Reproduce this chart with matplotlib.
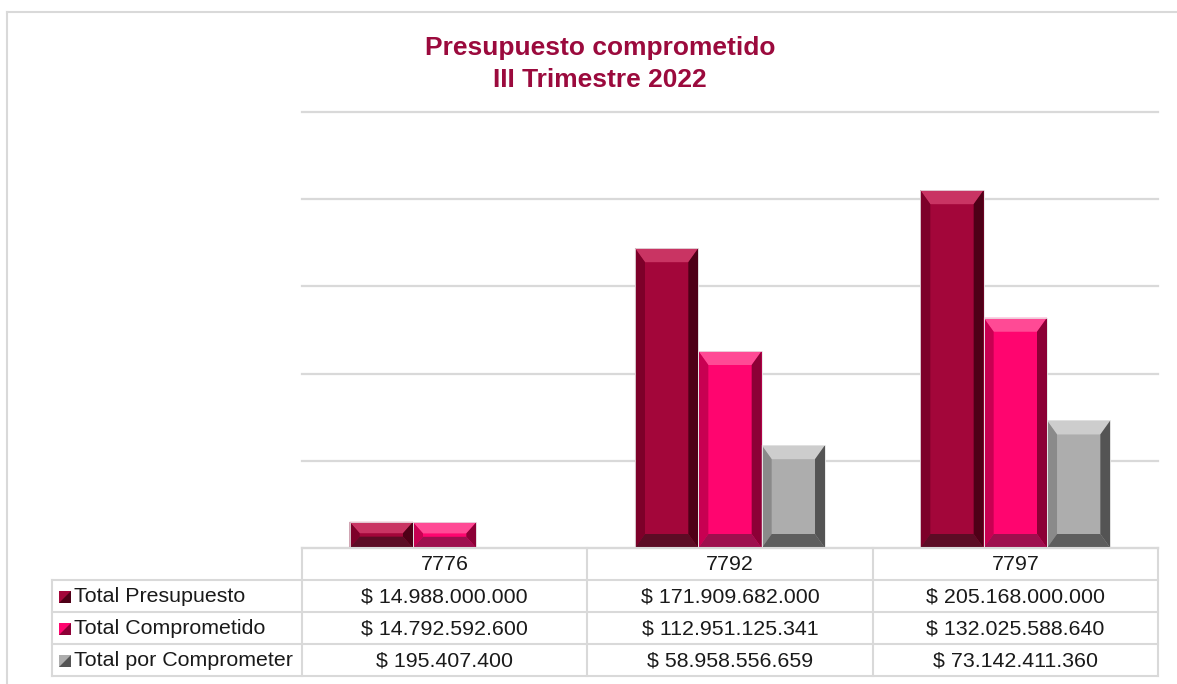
import numpy as np
import matplotlib
matplotlib.use("Agg")
import matplotlib.pyplot as plt
from matplotlib.patches import Polygon

plt.rcParams['font.family'] = ['Liberation Sans', 'DejaVu Sans']

# Datos del gráfico
categorias = ['7776', '7792', '7797']
series = ['Total Presupuesto', 'Total Comprometido', 'Total por Comprometer']
total_presupuesto = [14988000000, 171909682000, 205168000000]
total_comprometido = [14792592600, 112951125341, 132025588640]
total_por_comprometer = [195407400, 58958556659, 73142411360]
etiquetas_presupuesto = ['$ 14.988.000.000', '$ 171.909.682.000', '$ 205.168.000.000']
etiquetas_comprometido = ['$ 14.792.592.600', '$ 112.951.125.341', '$ 132.025.588.640']
etiquetas_por_comprometer = ['$ 195.407.400', '$ 58.958.556.659', '$ 73.142.411.360']

# colores: cara, arriba, izquierda, derecha, abajo
paletas = [
    ['#A3063A', '#C93463', '#7D0029', '#4E0017', '#5C0C25'],
    ['#FF056F', '#FF4A95', '#C80052', '#8C0036', '#9E0F4E'],
    ['#ADADAD', '#CDCDCD', '#8A8A8A', '#545454', '#5E5E5E'],
]
color_titulo = '#9B0A3D'
color_rejilla = '#D9D9D9'

W, H = 1177, 684
fig = plt.figure(figsize=(W / 100, H / 100), dpi=100)

# eje principal del gráfico (en píxeles: x 302..1158, y 112..548)
x0, x1, y_top, y_base = 302, 1158, 112, 548
ax = fig.add_axes([x0 / W, (H - y_base) / H, (x1 - x0) / W, (y_base - y_top) / H])
ax.set_xlim(-0.5, 2.5)
ax.set_ylim(0, 250e9)
ax.set_yticks(np.arange(0, 250e9 + 1, 50e9))
ax.yaxis.grid(True, color=color_rejilla, linewidth=1.6)
for gl in ax.get_ygridlines():
    gl.set_clip_on(False)
ax.set_axisbelow(True)
ax.tick_params(left=False, bottom=False, labelleft=False, labelbottom=False)
for s in ax.spines.values():
    s.set_visible(False)

ancho = 0.222
px_x = 3 / (x1 - x0)           # unidades por píxel en x
px_y = 250e9 / (y_base - y_top)  # unidades por píxel en y
bx = 10 * px_x
by_max = 14 * px_y


def barra_bisel(ax, xc, h, pal):
    xa, xb = xc - ancho / 2, xc + ancho / 2
    by = min(by_max, h / 2.3)
    bxx = min(bx, by / px_y * px_x)
    cara, arriba, izq, der, abajo = pal
    ax.add_patch(Polygon([(xa, 0), (xb, 0), (xb, h), (xa, h)], closed=True,
                         facecolor=cara, edgecolor='none', zorder=3))
    ax.add_patch(Polygon([(xa, h), (xb, h), (xb - bxx, h - by), (xa + bxx, h - by)],
                         closed=True, facecolor=arriba, edgecolor='none', zorder=4))
    ax.add_patch(Polygon([(xa, 0), (xa + bxx, by), (xa + bxx, h - by), (xa, h)],
                         closed=True, facecolor=izq, edgecolor='none', zorder=4))
    ax.add_patch(Polygon([(xb, 0), (xb - bxx, by), (xb - bxx, h - by), (xb, h)],
                         closed=True, facecolor=der, edgecolor='none', zorder=4))
    ax.add_patch(Polygon([(xa, 0), (xb, 0), (xb - bxx, by), (xa + bxx, by)],
                         closed=True, facecolor=abajo, edgecolor='none', zorder=4))
    # contorno fino claro
    ax.add_patch(Polygon([(xa, 0), (xb, 0), (xb, h), (xa, h)], closed=True,
                         facecolor='none', edgecolor='#E6E6E6', lw=0.6, zorder=5))


valores = [total_presupuesto, total_comprometido, total_por_comprometer]
for i, serie in enumerate(valores):
    for j, v in enumerate(serie):
        if v / px_y < 1:
            continue  # barra menor a un píxel, no se ve
        barra_bisel(ax, j + (i - 1) * ancho, v, paletas[i])

# capa superior en píxeles para marco, título y tabla
ov = fig.add_axes([0, 0, 1, 1], facecolor='none')
ov.set_xlim(0, W)
ov.set_ylim(H, 0)
ov.axis('off')

# marco exterior
ov.plot([7, 7], [H + 5, 12], color=color_rejilla, lw=1.5)
ov.plot([7, W + 5], [12, 12], color=color_rejilla, lw=1.5)

ov.text(600, 48, 'Presupuesto comprometido', ha='center', va='center',
        fontsize=19, fontweight='bold', color=color_titulo)
ov.text(600, 80, 'III Trimestre 2022', ha='center', va='center',
        fontsize=19, fontweight='bold', color=color_titulo)

# tabla de datos
cols = [302, 587, 873, 1158]
filas = [548, 580, 612, 644, 676]
lab_x0 = 52
lc = dict(color=color_rejilla, lw=1.5)
ov.plot([cols[0], cols[-1]], [filas[0], filas[0]], **lc)
for y in filas[1:]:
    ov.plot([lab_x0, cols[-1]], [y, y], **lc)
for x in cols:
    ov.plot([x, x], [filas[0], filas[-1]], **lc)
ov.plot([lab_x0, lab_x0], [filas[1], filas[-1]], **lc)

fs = 15.4
for j, c in enumerate(categorias):
    xc = (cols[j] + cols[j + 1]) / 2
    ov.text(xc, (filas[0] + filas[1]) / 2 + 1, c, ha='center', va='center', fontsize=fs, color='#1A1A1A')

etiquetas = [etiquetas_presupuesto, etiquetas_comprometido, etiquetas_por_comprometer]
for i, nombre in enumerate(series):
    yc = (filas[i + 1] + filas[i + 2]) / 2 + 1
    # cuadro de leyenda
    sx, sy, sz = 59, yc - 6, 12
    ov.add_patch(Polygon([(sx, sy), (sx + sz, sy), (sx + sz, sy + sz), (sx, sy + sz)],
                         closed=True, facecolor=paletas[i][0], edgecolor='none'))
    ov.add_patch(Polygon([(sx + sz, sy), (sx + sz, sy + sz), (sx, sy + sz)],
                         closed=True, facecolor=paletas[i][3], edgecolor='none'))
    ov.text(74, yc, nombre, ha='left', va='center', fontsize=fs, color='#1A1A1A')
    for j in range(3):
        xc = (cols[j] + cols[j + 1]) / 2
        ov.text(xc, yc, etiquetas[i][j], ha='center', va='center', fontsize=fs, color='#1A1A1A')

fig.savefig('out.png', dpi=100)
